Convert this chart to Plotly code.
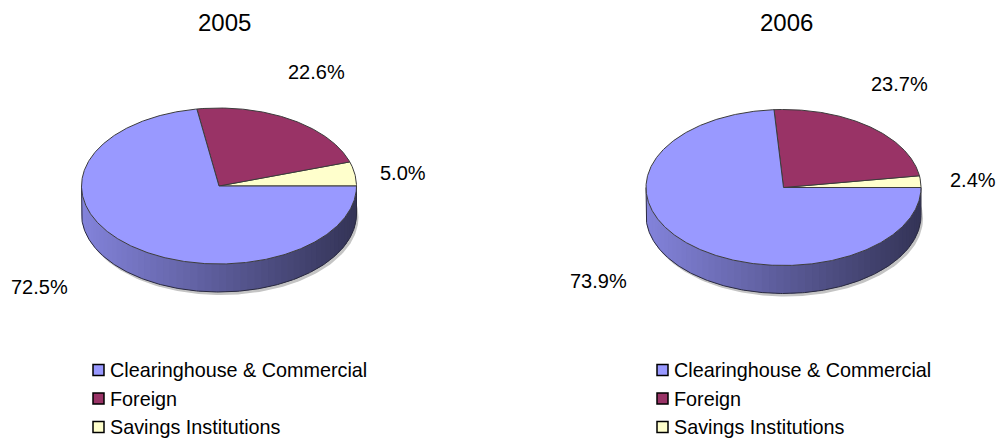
import numpy as np
import plotly.graph_objects as go

# ---- data -------------------------------------------------------------
categories = ["Clearinghouse & Commercial", "Foreign", "Savings Institutions"]
years = ["2005", "2006"]
share_2005 = [72.5, 22.6, 5.0]
share_2006 = [73.9, 23.7, 2.4]

# ---- style ------------------------------------------------------------
top_colors = ["#9999ff", "#993366", "#ffffcc"]
# slices run counter-clockwise from 3 o'clock, smallest category first
draw_order = [2, 1, 0]

W, H = 1000, 442
FONT = "Liberation Sans, Arial, sans-serif"
RX, RY, DEPTH = 137.5, 78.0, 28.0
N_ARC = 240

pies = [
    dict(year=years[0], values=share_2005, cx=219.0, cy=186.0,
         title_xy=(224, 22), legend_x=93,
         label_xy={0: (39, 286.5), 1: (316.7, 72), 2: (403, 173)}),
    dict(year=years[1], values=share_2006, cx=783.5, cy=187.5,
         title_xy=(786, 22), legend_x=657,
         label_xy={0: (598.5, 280.5), 1: (899.5, 84), 2: (973, 180)}),
]
legend_rows = [370, 398.5, 427]


def hex_rgb(h):
    h = h.lstrip("#")
    return tuple(int(h[i:i + 2], 16) for i in (0, 2, 4))


def shade(hexcol, f):
    r, g, b = hex_rgb(hexcol)
    return "rgb(%d,%d,%d)" % (min(255, r * f), min(255, g * f), min(255, b * f))


def ellipse_pt(cx, cy, deg, dy=0.0):
    t = np.radians(deg)
    return cx + RX * np.cos(t), cy - RY * np.sin(t) + dy


fig = go.Figure()
annotations = []
shapes = []

for pie in pies:
    cx, cy = pie["cx"], pie["cy"]
    vals = pie["values"]
    total = float(sum(vals))

    # angular span of every slice
    spans = {}
    start = 0.0
    for idx in draw_order:
        sweep = vals[idx] / total * 360.0
        spans[idx] = (start, start + sweep)
        start += sweep

    # soft drop shadow under the rim
    th = np.linspace(0, 360, N_ARC)
    sx, sy = ellipse_pt(cx + 2, cy, th, DEPTH + 3)
    fig.add_trace(go.Scatter(x=sx, y=sy, fill="toself", mode="lines",
                             fillcolor="#c4c4c4", line=dict(width=0),
                             hoverinfo="skip", showlegend=False))

    # rim (front half, 180..360 deg), shaded left-to-right;
    # each band overlaps the next one slightly so no seams show
    for idx in draw_order:
        a0, a1 = spans[idx]
        lo, hi = max(a0, 180.0), min(a1, 360.0)
        if hi <= lo:
            continue
        edges = np.linspace(lo, hi, max(2, int((hi - lo) / 3) + 1))
        for e0, e1 in zip(edges[:-1], edges[1:]):
            e1x = min(e1 + 2.0, hi)
            arc = np.linspace(e0, e1x, 8)
            tx, ty = ellipse_pt(cx, cy, arc)
            bx, by = ellipse_pt(cx, cy, arc[::-1], DEPTH)
            mid_x = cx + RX * np.cos(np.radians((e0 + e1) / 2))
            t = (mid_x - (cx - RX)) / (2 * RX)
            col = shade(top_colors[idx], 0.86 - 0.52 * t)
            fig.add_trace(go.Scatter(
                x=np.concatenate([tx, bx]), y=np.concatenate([ty, by]),
                fill="toself", mode="lines", fillcolor=col,
                line=dict(width=0),
                hoverinfo="skip", showlegend=False))

    # rim outline
    arc = np.linspace(180, 360, N_ARC)
    bx, by = ellipse_pt(cx, cy, arc, DEPTH)
    lx0, ly0 = ellipse_pt(cx, cy, 180)
    rx0, ry0 = ellipse_pt(cx, cy, 360)
    fig.add_trace(go.Scatter(
        x=np.concatenate([[lx0], bx, [rx0]]),
        y=np.concatenate([[ly0], by, [ry0]]),
        mode="lines", line=dict(color="#2a2a40", width=1),
        hoverinfo="skip", showlegend=False))

    # top face slices
    for idx in draw_order:
        a0, a1 = spans[idx]
        arc = np.linspace(a0, a1, max(8, int(a1 - a0) * 2))
        px, py = ellipse_pt(cx, cy, arc)
        fig.add_trace(go.Scatter(
            x=np.concatenate([[cx], px, [cx]]),
            y=np.concatenate([[cy], py, [cy]]),
            fill="toself", mode="lines", fillcolor=top_colors[idx],
            line=dict(color="#3c3c3c", width=1),
            name=categories[idx], showlegend=False,
            hovertemplate="%s<br>%.1f%%<extra></extra>" % (categories[idx], vals[idx])))

    # value labels
    for idx in draw_order:
        x, y = pie["label_xy"][idx]
        annotations.append(dict(x=x, y=y, xref="x", yref="y", showarrow=False,
                                text="%.1f%%" % vals[idx],
                                font=dict(family=FONT, size=20, color="#000000"),
                                xanchor="center", yanchor="middle"))

    # year title
    annotations.append(dict(x=pie["title_xy"][0], y=pie["title_xy"][1],
                            xref="x", yref="y", showarrow=False, text=pie["year"],
                            font=dict(family=FONT, size=24, color="#000000"),
                            xanchor="center", yanchor="middle"))

    # legend
    lx = pie["legend_x"]
    for row, idx in enumerate(range(len(categories))):
        ry = legend_rows[row]
        shapes.append(dict(type="rect", xref="x", yref="y",
                           x0=lx, x1=lx + 11, y0=ry - 5.5, y1=ry + 5.5,
                           fillcolor=top_colors[idx],
                           line=dict(color="#000000", width=1.5)))
        annotations.append(dict(x=lx + 14.5, y=ry, xref="x", yref="y",
                                showarrow=False, text=categories[idx],
                                font=dict(family=FONT, size=19.8, color="#000000"),
                                xanchor="left", yanchor="middle"))

fig.update_layout(
    width=W, height=H,
    margin=dict(l=0, r=0, t=0, b=0),
    paper_bgcolor="#ffffff", plot_bgcolor="#ffffff",
    xaxis=dict(range=[0, W], visible=False, fixedrange=True),
    yaxis=dict(range=[H, 0], visible=False, fixedrange=True),
    annotations=annotations, shapes=shapes,
    showlegend=False,
)

fig.write_html("out.html")
